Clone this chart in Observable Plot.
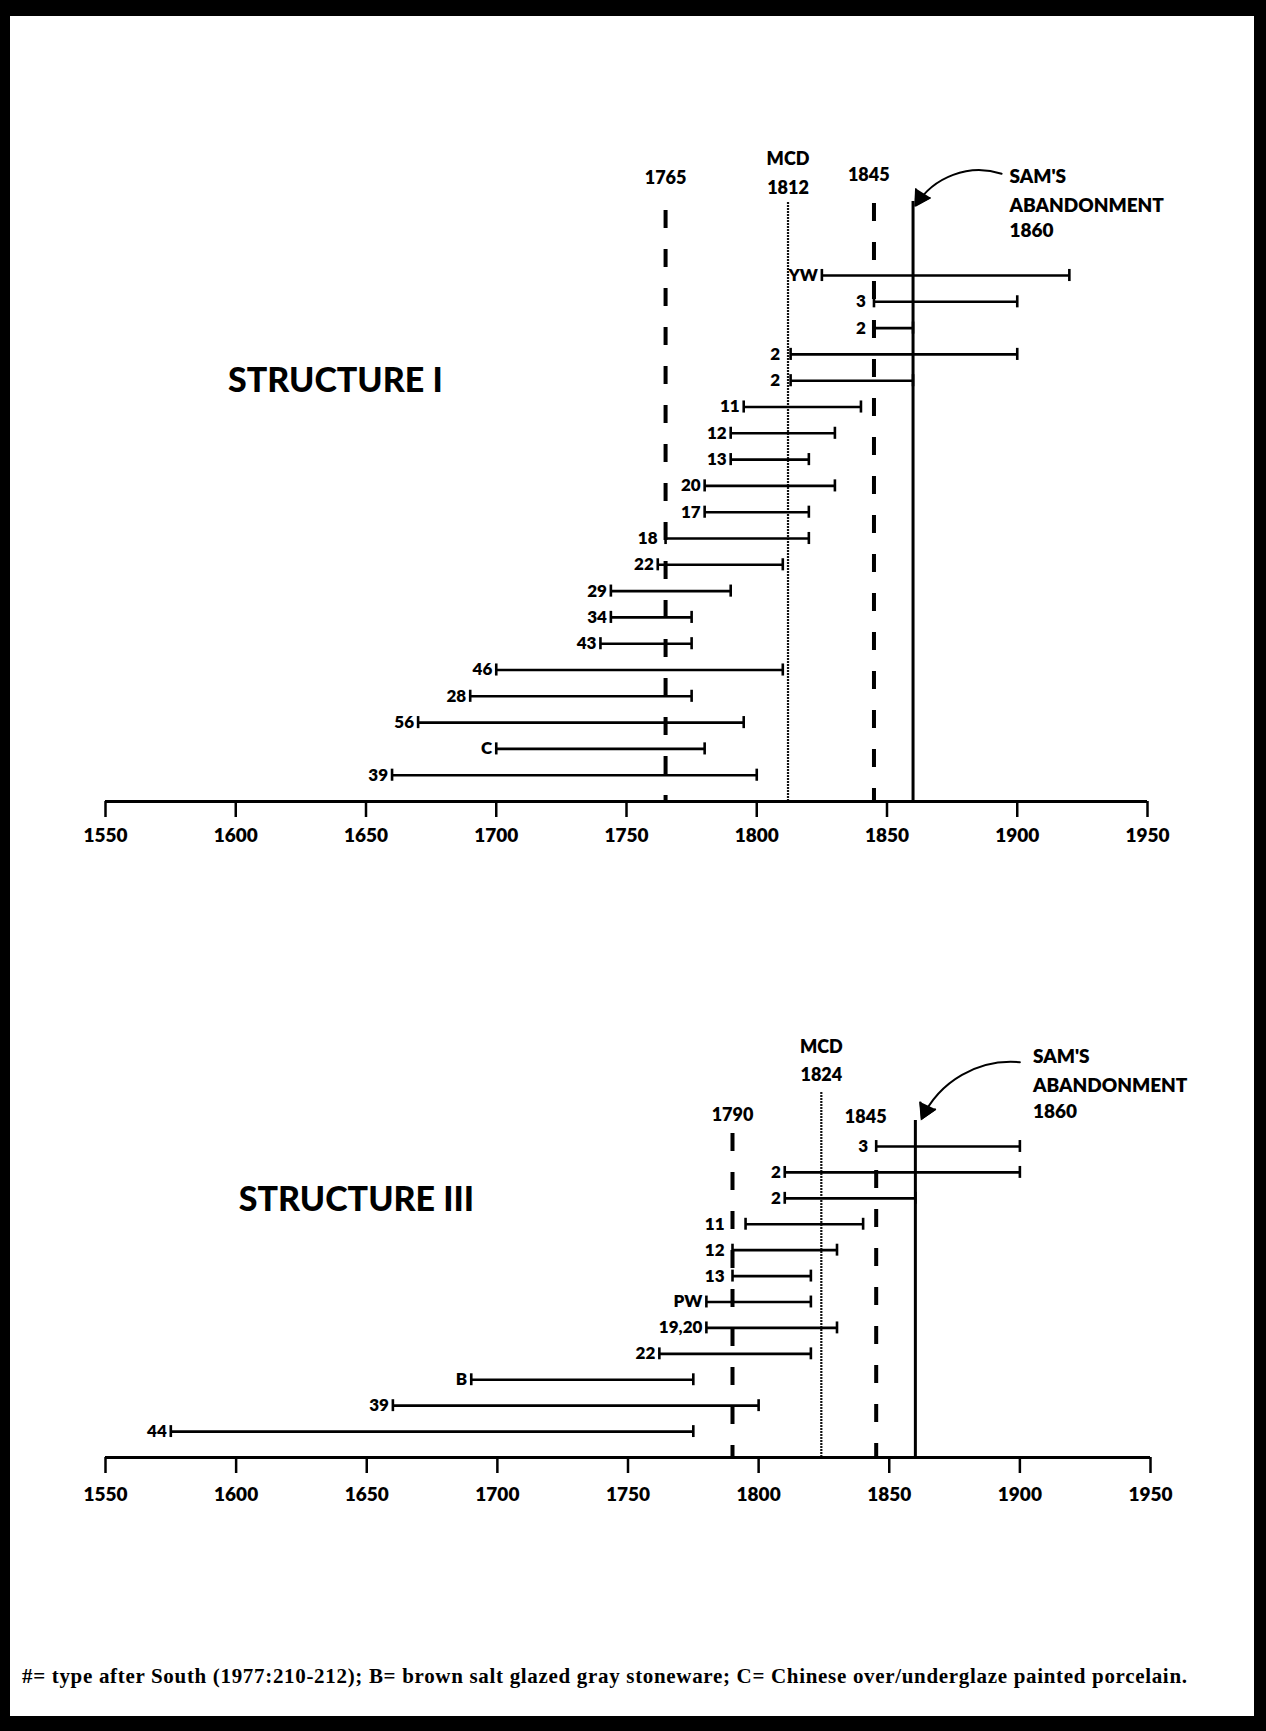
<!DOCTYPE html>
<html>
<head>
<meta charset="utf-8">
<script src="https://cdn.jsdelivr.net/npm/d3@7"></script>
<script src="https://cdn.jsdelivr.net/npm/@observablehq/plot@0.6"></script>
<style>
  body { margin: 0; background: #fff; }
  #page { position: relative; width: 1266px; height: 1731px; background: #000; overflow: hidden; }
  #sheet { position: absolute; left: 10px; top: 16px; width: 1244px; height: 1700px; background: #fff; }
  .plot { position: absolute; left: 0; }
  #caption { position: absolute; left: 22px; top: 1664px; font-family: "Liberation Serif", serif; font-weight: bold; font-size: 21px; letter-spacing: 0.68px; white-space: nowrap; color: #000; }
</style>
</head>
<body>
<div id="page">
  <div id="sheet"></div>
  <div id="p1" class="plot" style="top:0px"></div>
  <div id="p2" class="plot" style="top:880px"></div>
  <div id="caption"></div>
</div>
<script>
// ---------- data ----------
const xTicks = [1550, 1600, 1650, 1700, 1750, 1800, 1850, 1900, 1950];
const captionText = "#= type after South (1977:210-212); B= brown salt glazed gray stoneware; C= Chinese over/underglaze painted porcelain.";

// Structure I
const s1Title = "STRUCTURE I";
const s1Types = ["YW", "3", "2", "2", "2", "11", "12", "13", "20", "17", "18", "22", "29", "34", "43", "46", "28", "56", "C", "39"];
const s1Begin = [1825, 1845, 1845, 1813, 1813, 1795, 1790, 1790, 1780, 1780, 1765, 1762, 1744, 1744, 1740, 1700, 1690, 1670, 1700, 1660];
const s1End   = [1920, 1900, 1860, 1900, 1860, 1840, 1830, 1820, 1830, 1820, 1820, 1810, 1790, 1775, 1775, 1810, 1775, 1795, 1780, 1800];
const s1Bounds = [1765, 1845];
const s1MCD = 1812;

// Structure III
const s3Title = "STRUCTURE III";
const s3Types = ["3", "2", "2", "11", "12", "13", "PW", "19,20", "22", "B", "39", "44"];
const s3Begin = [1845, 1810, 1810, 1795, 1790, 1790, 1780, 1780, 1762, 1690, 1660, 1575];
const s3End   = [1900, 1900, 1860, 1840, 1830, 1820, 1820, 1830, 1820, 1775, 1800, 1775];
const s3Bounds = [1790, 1845];
const s3MCD = 1824;

const abandonYear = 1860;
const abandonLines = ["SAM'S", "ABANDONMENT", String(abandonYear)];

// ---------- chart builder ----------
function chart(cfg) {
  const n = cfg.types.length;
  const refLines = [...cfg.bounds, cfg.mcd];
  const rows = cfg.types.map((t, i) => {
    const begin = cfg.begin[i];
    // keep the type label clear of a reference line just left of the range start
    const near = refLines.filter(l => l <= begin + 0.5 && l >= begin - 7);
    const lx = near.length ? Math.min(...near) : begin;
    return {type: t, begin, end: cfg.end[i], i, lx, ldx: near.length ? -8 : -4};
  });
  const cap = 0.23;
  const heavy = {fontFamily: "Lato", fontWeight: 800};
  const labels = [
    {x: cfg.bounds[0], y: cfg.lab.b0, text: String(cfg.bounds[0])},
    {x: cfg.mcd, y: cfg.lab.mcd1, text: "MCD"},
    {x: cfg.mcd, y: cfg.lab.mcd2, text: String(cfg.mcd)},
    {x: cfg.lab.b1x, y: cfg.lab.b1, text: String(cfg.bounds[1])}
  ];
  const samLabels = abandonLines.map((t, k) => ({x: cfg.sam.x, y: cfg.sam.y[k], text: t}));
  const a = cfg.arrow;
  const rowsNear = rows.filter(d => d.ldx === -8);
  const rowsFree = rows.filter(d => d.ldx !== -8);
  const rowText = (data, dx) => Plot.text(data, {x: "lx", y: "i", text: "type", textAnchor: "end", dx, fontSize: cfg.rowFont, ...heavy, fill: "#000"});
  return Plot.plot({
    width: 1266,
    height: cfg.height,
    marginLeft: cfg.ml,
    marginRight: cfg.mr,
    marginTop: 0,
    marginBottom: cfg.height - cfg.range[1],
    x: {domain: [1550, 1950]},
    y: {domain: [0, n], range: cfg.range, axis: null},
    style: {background: "transparent", color: "#000", fontFamily: "Lato"},
    marks: [
      // dashed date bounds
      Plot.ruleX(cfg.bounds.map((b, k) => ({x: b, top: cfg.tops[k]})),
        {x: "x", y1: "top", y2: n, stroke: "#000", strokeWidth: 4, strokeDasharray: "18,21"}),
      // mean ceramic date
      Plot.ruleX([cfg.mcd], {y1: cfg.tops[2], y2: n, stroke: "#111", strokeWidth: 2.2, strokeDasharray: "2,1"}),
      // abandonment
      Plot.ruleX([abandonYear], {y1: cfg.tops[3], y2: n, stroke: "#000", strokeWidth: 3}),
      // ranges
      Plot.ruleY(rows, {y: "i", x1: "begin", x2: "end", stroke: "#000", strokeWidth: 2.6}),
      Plot.ruleX(rows, {x: "begin", y1: d => d.i - cap, y2: d => d.i + cap, stroke: "#000", strokeWidth: 2.6}),
      Plot.ruleX(rows, {x: "end", y1: d => d.i - cap, y2: d => d.i + cap, stroke: "#000", strokeWidth: 2.6}),
      rowText(rowsFree, -4),
      rowText(rowsNear, -8),
      // axis line
      Plot.ruleY([n], {x1: 1550, x2: 1950, stroke: "#000", strokeWidth: 3}),
      Plot.axisX({ticks: xTicks, tickFormat: d => String(d), tickSize: 16, tickPadding: cfg.tickPad,
        fontSize: 19, fontWeight: 800, fontFamily: "Lato", letterSpacing: -1, strokeWidth: 2.5, stroke: "#000", fill: "#000", label: null}),
      // annotations
      Plot.text(labels, {x: "x", y: "y", text: "text", fontSize: 18, ...heavy, letterSpacing: 1, fill: "#000"}),
      Plot.text(samLabels, {x: "x", y: "y", text: "text", textAnchor: "start", fontSize: 19, ...heavy, letterSpacing: 0.8, fill: "#000"}),
      Plot.arrow([a], {x1: "x1", y1: "y1", x2: "x2", y2: "y2", bend: a.bend, headLength: 12, strokeWidth: 2, stroke: "#000"}),
      Plot.dot([a], {x: "x2", y: "y2", symbol: "triangle", r: 7, fill: "#000", stroke: "none", rotate: a.rot, dx: a.dx, dy: a.dy}),
      Plot.text([cfg.title], {x: cfg.titlePos[0], y: cfg.titlePos[1], text: d => d, textAnchor: "start", fontSize: 34, fontFamily: "Lato", fontWeight: 900, fill: "#000"})
    ]
  });
}

document.getElementById("p1").append(chart({
  types: s1Types, begin: s1Begin, end: s1End, bounds: s1Bounds, mcd: s1MCD, title: s1Title,
  height: 880, range: [275, 801], ml: 105, mr: 119, tickPad: 11, rowFont: 17,
  tops: [-2.47, -2.74, -2.78, -2.81],
  lab: {b0: -3.7, mcd1: -4.42, mcd2: -3.32, b1: -3.82, b1x: 1843},
  sam: {x: 1897, y: [-3.74, -2.66, -1.68]},
  arrow: {x1: 1894, y1: -3.87, x2: 1861, y2: -2.66, bend: -38, rot: 212, dx: 4.5, dy: -8},
  titlePos: [1597, 4]
}));

document.getElementById("p2").append(chart({
  types: s3Types, begin: s3Begin, end: s3End, bounds: s3Bounds, mcd: s3MCD, title: s3Title,
  height: 680, range: [266, 577], ml: 105, mr: 116, tickPad: 14, rowFont: 17,
  tops: [-0.5, 0.93, -2.08, -1.0],
  lab: {b0: -1.2, mcd1: -3.83, mcd2: -2.74, b1: -1.13, b1x: 1841},
  sam: {x: 1905, y: [-3.45, -2.35, -1.32]},
  arrow: {x1: 1900, y1: -3.25, x2: 1862.5, y2: -1.08, bend: -35, rot: 205, dx: 3.5, dy: -8},
  titlePos: [1601, 2.08]
}));

document.getElementById("caption").textContent = captionText;
</script>
</body>
</html>
